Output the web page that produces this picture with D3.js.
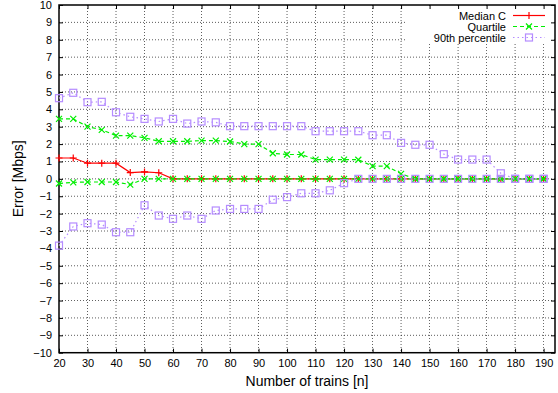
<!DOCTYPE html>
<html><head><meta charset="utf-8">
<script src="https://cdn.jsdelivr.net/npm/d3@7"></script>
<style>body{margin:0;background:#fff}svg{display:block;font-family:"Liberation Sans",Arial,sans-serif}</style>
</head><body><svg id="c" width="558" height="393"></svg>
<script>
const nTrains = d3.range(20, 191, 5);
const medianC = [1.2,1.2,0.9,0.9,0.9,0.36,0.4,0.35,0,0,0,0,0,0,0,0,0,0,0,0,0,0,0,0,0,0,0,0,0,0,0,0,0,0,0];
const quartileUp = [3.45,3.45,3.0,2.82,2.49,2.49,2.36,2.16,2.16,2.16,2.2,2.2,2.15,2.0,2.0,1.47,1.4,1.4,1.11,1.11,1.11,1.1,0.73,0.73,0.29,0,0,0,0,0,0,0,0,0,0];
const quartileLow = [-0.27,-0.2,-0.18,-0.18,-0.18,-0.33,0,0,0,0,0,0,0,0,0,0,0,0,0,0,0,0,0,0,0,0,0,0,0,0,0,0,0,0,0];
const p90Up = [4.64,4.95,4.41,4.43,3.83,3.57,3.45,3.3,3.45,3.18,3.3,3.25,3.03,3.03,3.03,3.03,3.03,3.03,2.74,2.74,2.74,2.74,2.51,2.51,2.07,1.96,1.96,1.42,1.11,1.11,1.11,0.32,0,0,0];
const p90Low = [-3.84,-2.74,-2.55,-2.63,-3.07,-3.07,-1.52,-2.11,-2.3,-2.11,-2.3,-1.82,-1.73,-1.73,-1.73,-1.2,-1.05,-0.83,-0.83,-0.66,-0.25,0,0,0,0,0,0,0,0,0,0,0,0,0,0];
const xTicks = d3.range(20, 191, 10);
const yTicks = d3.range(-10, 11, 1);
const seriesNames = ["Median C", "Quartile", "90th percentile"];

const svg = d3.select("#c");
const L = 59, R = 555, T = 5, B = 352.7;
const x = d3.scaleLinear().domain([20, 194]).range([L, R]);
const y = d3.scaleLinear().domain([-10, 10]).range([B, T]);

// grid
const g = svg.append("g");
g.selectAll(".gx").data(xTicks.slice(1)).enter().append("line")
  .attr("x1", d => x(d)).attr("x2", d => x(d)).attr("y1", T).attr("y2", B)
  .attr("stroke", "#000").attr("stroke-width", 0.8).attr("stroke-dasharray", "1,2").attr("opacity", 0.8);
g.selectAll(".gy").data(yTicks.slice(1, -1)).enter().append("line")
  .attr("x1", L).attr("x2", R).attr("y1", d => y(d)).attr("y2", d => y(d))
  .attr("stroke", "#000").attr("stroke-width", 0.8).attr("stroke-dasharray", "1,2").attr("opacity", 0.8);

// legend background (opaque)
svg.append("rect").attr("x", 406).attr("y", T + 1).attr("width", R - 406 - 1).attr("height", 38).attr("fill", "#fff");

// axes with d3
const ax = svg.append("g").attr("transform", `translate(0,${B})`)
  .call(d3.axisBottom(x).tickValues(xTicks).tickSize(-4).tickPadding(7).tickFormat(d3.format("d")));
const axT = svg.append("g").attr("transform", `translate(0,${T})`)
  .call(d3.axisTop(x).tickValues(xTicks).tickSize(-4).tickFormat(""));
const ay = svg.append("g").attr("transform", `translate(${L},0)`)
  .call(d3.axisLeft(y).tickValues(yTicks).tickSize(-4).tickPadding(7).tickFormat(d3.format("d")));
const ayR = svg.append("g").attr("transform", `translate(${R},0)`)
  .call(d3.axisRight(y).tickValues(yTicks).tickSize(-4).tickFormat(""));
[ax, axT, ay, ayR].forEach(a => {
  a.select(".domain").remove();
  a.selectAll("line").attr("stroke", "#000");
  a.selectAll("text").attr("font-size", 11).attr("fill", "#000").attr("font-family", "Liberation Sans, Arial, sans-serif");
});

svg.append("rect").attr("x", L).attr("y", T).attr("width", R - L).attr("height", B - T)
  .attr("fill", "none").attr("stroke", "#000").attr("stroke-width", 1.5);

// axis titles
svg.append("text").attr("x", (L + R) / 2).attr("y", 386).attr("text-anchor", "middle")
  .attr("font-size", 14).text("Number of trains [n]");
svg.append("text").attr("transform", `translate(23,${(T + B) / 2}) rotate(-90)`).attr("text-anchor", "middle")
  .attr("font-size", 14).text("Error [Mbps]");

const red = "#ff0000", green = "#00ee00", purple = "#b58cff";
const line = d3.line().x((d, i) => x(nTrains[i])).y(d => y(d));

function plus(sel, color) {
  sel.append("path").attr("d", "M-3.5,0H3.5M0,-3.5V3.5").attr("stroke", color).attr("stroke-width", 1.2).attr("fill", "none");
}
function cross(sel, color) {
  sel.append("path").attr("d", "M-3,-3L3,3M-3,3L3,-3").attr("stroke", color).attr("stroke-width", 1.2).attr("fill", "none");
}
function square(sel, color) {
  sel.append("rect").attr("x", -3.5).attr("y", -3.5).attr("width", 7).attr("height", 7).attr("stroke", color).attr("stroke-width", 1.2).attr("fill", "none");
}

function drawSeries(data, color, dash, marker) {
  svg.append("path").datum(data).attr("d", line).attr("fill", "none").attr("stroke", color)
    .attr("stroke-width", 1.2).attr("stroke-dasharray", dash);
  svg.append("g").selectAll("g").data(data).enter().append("g")
    .attr("transform", (d, i) => `translate(${x(nTrains[i])},${y(d)})`)
    .each(function () { marker(d3.select(this), color); });
}

drawSeries(medianC, red, null, plus);
drawSeries(quartileUp, green, "4,3", cross);
drawSeries(quartileLow, green, "4,3", cross);
drawSeries(p90Up, purple, "1.5,3", square);
drawSeries(p90Low, purple, "1.5,3", square);

// legend
const leg = [[red, null, plus], [green, "4,3", cross], [purple, "1.5,3", square]];
leg.forEach((l, i) => {
  const yy = 15.5 + i * 11;
  svg.append("text").attr("x", 506).attr("y", yy + 4).attr("text-anchor", "end").attr("font-size", 11).text(seriesNames[i]);
  svg.append("line").attr("x1", 513).attr("x2", 545).attr("y1", yy).attr("y2", yy)
    .attr("stroke", l[0]).attr("stroke-width", 1.2).attr("stroke-dasharray", l[1]);
  const m = svg.append("g").attr("transform", `translate(529,${yy})`);
  l[2](m, l[0]);
});
</script></body></html>
